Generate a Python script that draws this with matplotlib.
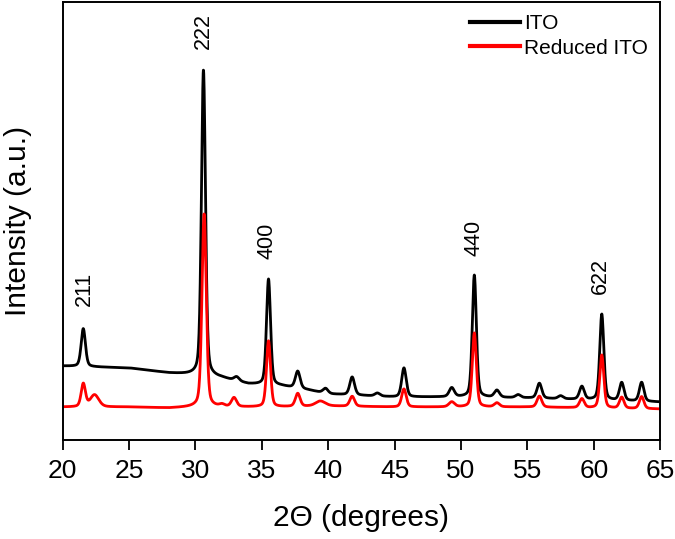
import numpy as np
import matplotlib.pyplot as plt

plt.rcParams['font.family'] = ['Liberation Sans', 'DejaVu Sans']

# background levels (2-theta, intensity a.u.)
ito_bg_pos = [20, 25, 28, 30, 32, 34, 36.5, 38.5, 40, 45, 50, 55, 60, 65]
ito_bg_val = [74, 72, 67, 65, 62, 56, 54, 50, 46, 43, 43, 42, 40, 38]
red_bg_pos = [20, 25, 28, 30, 33, 36, 40, 45, 50, 55, 60, 65]
red_bg_val = [33, 33, 32, 33, 33, 33, 34, 33, 33, 33, 32, 31]

# peaks: position, height above background, width (fwhm)
ito_peak_pos = [21.55, 30.6, 33.1, 35.5, 37.7, 39.8, 41.8, 43.7, 45.7, 49.3,
                51.0, 52.7, 54.3, 55.9, 57.5, 59.1, 60.6, 62.1, 63.6]
ito_peak_h = [38, 306, 4, 106, 17, 5, 18, 3, 29, 9,
              122, 7, 3, 15, 3, 13, 86, 18, 19]
ito_peak_w = [0.38, 0.36, 0.45, 0.36, 0.42, 0.45, 0.42, 0.45, 0.4, 0.45,
              0.36, 0.45, 0.45, 0.42, 0.45, 0.42, 0.36, 0.4, 0.4]

red_peak_pos = [21.55, 22.4, 30.65, 32.0, 32.9, 35.5, 37.7, 39.4, 41.8, 45.7,
                49.3, 51.0, 52.7, 55.9, 59.1, 60.6, 62.1, 63.6]
red_peak_h = [23, 12, 193, 2, 9, 66, 13, 5, 10, 18,
              5, 74, 4, 11, 9, 53, 11, 12]
red_peak_w = [0.38, 0.75, 0.38, 0.45, 0.45, 0.36, 0.42, 0.85, 0.42, 0.4,
              0.5, 0.36, 0.45, 0.42, 0.42, 0.36, 0.4, 0.4]

# hkl labels: text, position, bottom of label
hkl_text = ['211', '222', '400', '440', '622']
hkl_pos = [21.6, 30.6, 35.4, 51.0, 60.5]
hkl_y = [134, 391, 181, 184, 146]


def pattern(x, bg_pos, bg_val, pos, h, w):
    y = np.interp(x, bg_pos, bg_val)
    for p, a, f in zip(pos, h, w):
        g = np.exp(-4 * np.log(2) * ((x - p) / f) ** 2)
        l = 1 / (1 + 4 * ((x - p) / f) ** 2)
        y = y + a * (0.65 * g + 0.35 * l)
    return y


x = np.linspace(20, 65, 3000)
ito = pattern(x, ito_bg_pos, ito_bg_val, ito_peak_pos, ito_peak_h, ito_peak_w)
reduced = pattern(x, red_bg_pos, red_bg_val, red_peak_pos, red_peak_h, red_peak_w)

fig = plt.figure(figsize=(6.75, 5.39), dpi=100)
ax = fig.add_axes([0.0929, 0.1837, 0.8852, 0.8126])

ax.plot(x, ito, color='black', lw=2.0, label='ITO')
ax.plot(x, reduced, color='red', lw=2.0, label='Reduced ITO')

for t, p, yy in zip(hkl_text, hkl_pos, hkl_y):
    ax.text(p, yy, t, rotation=90, ha='center', va='bottom', fontsize=15.5)

ax.set_xlim(20, 65)
ax.set_ylim(0, 438)
ax.set_xticks(range(20, 66, 5))
ax.set_yticks([])
ax.tick_params(axis='x', direction='out', length=7, width=1.3, labelsize=19, pad=7)
for s in ax.spines.values():
    s.set_linewidth(1.4)

ax.set_xlabel('2\u0398 (degrees)', fontsize=21.5, labelpad=15)
ax.set_ylabel('Intensity (a.u.)', fontsize=21.5, labelpad=22)

leg = ax.legend(loc='upper right', frameon=False, fontsize=15, handlelength=2.4,
                handletextpad=0.2, borderaxespad=0.2, labelspacing=0.25)
for line in leg.get_lines():
    line.set_linewidth(3)

fig.savefig('out.png', dpi=100)
